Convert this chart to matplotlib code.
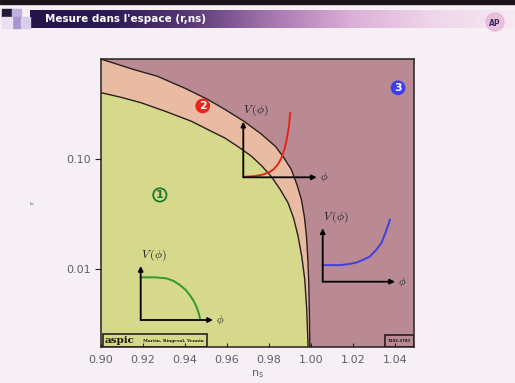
import numpy as np
import matplotlib.pyplot as plt
from matplotlib.patches import Rectangle
from matplotlib.colors import LinearSegmentedColormap

# boundary between region 2 and region 3 (ns, r)
upper_ns = [0.8990, 0.9150, 0.9270, 0.9400, 0.9510, 0.9600, 0.9680, 0.9760, 0.9830,
            0.9870, 0.9906, 0.9933, 0.9954, 0.9968, 0.9978, 0.9985, 0.9989, 0.9992, 0.9994]
upper_r = [0.80, 0.64, 0.551, 0.43, 0.34, 0.27, 0.217, 0.168, 0.129,
           0.102, 0.0796, 0.058, 0.0428, 0.030, 0.020, 0.012, 0.0076, 0.0042, 0.0020]

# boundary between region 1 and region 2
lower_ns = [0.8994, 0.9100, 0.9192, 0.9310, 0.9430, 0.9510, 0.9590, 0.9655, 0.9716,
            0.9765, 0.9810, 0.9852, 0.9890, 0.9917, 0.9938, 0.9956, 0.9970, 0.9979, 0.9986]
lower_r = [0.395, 0.355, 0.318, 0.265, 0.217, 0.182, 0.153, 0.127, 0.105,
           0.086, 0.069, 0.053, 0.040, 0.029, 0.020, 0.013, 0.0081, 0.0045, 0.0020]

xticks = [0.90, 0.92, 0.94, 0.96, 0.98, 1.00, 1.02, 1.04]
yticks = [0.01, 0.10]
ytick_labels = ['0.01', '0.10']

# schematic potentials (fractions of the little axes)
green_phi = [0.0, 0.20, 0.36, 0.46, 0.54, 0.62, 0.68, 0.73, 0.77, 0.80, 0.82]
green_v = [0.79, 0.79, 0.77, 0.72, 0.65, 0.56, 0.46, 0.36, 0.25, 0.14, 0.03]
red_phi = [0.03, 0.15, 0.27, 0.35, 0.41, 0.47, 0.52, 0.56, 0.59, 0.62, 0.64]
red_v = [0.01, 0.02, 0.05, 0.09, 0.14, 0.23, 0.35, 0.50, 0.67, 0.90, 1.16]
blue_phi = [0.0, 0.12, 0.24, 0.36, 0.47, 0.56, 0.65, 0.73, 0.81, 0.87, 0.93]
blue_v = [0.31, 0.31, 0.31, 0.33, 0.36, 0.41, 0.47, 0.58, 0.72, 0.92, 1.16]

W, H = 515, 383
C1 = '#d6d98c'
C2 = '#e9bba3'
C3 = '#b98a93'
TXT = '#5f5d70'

fig = plt.figure(figsize=(W / 100, H / 100), dpi=100)
fig.patch.set_facecolor('#f6eff3')

# slide decoration in pixel coordinates
bg = fig.add_axes([0, 0, 1, 1])
bg.set_xlim(0, W)
bg.set_ylim(H, 0)
bg.axis('off')
bg.add_patch(Rectangle((0, 0), W, 4, color='#1a1418'))
grad = np.linspace(0, 1, 256).reshape(1, -1)
cmap = LinearSegmentedColormap.from_list(
    'bar', ['#23144a', '#2c1a55', '#5a3a78', '#a777b0', '#dcb0d8', '#efd6ea', '#f6eaf2'])
bg.imshow(grad, cmap=cmap, aspect='auto', extent=(30, W, 28, 10), zorder=1)
bg.add_patch(Rectangle((2, 9), 10, 8, color='#241a3a', zorder=2))
bg.add_patch(Rectangle((12, 9), 9, 8, color='#bfb0dc', zorder=2))
bg.add_patch(Rectangle((12, 17), 9, 11, color='#a994cf', zorder=2))
bg.add_patch(Rectangle((21, 17), 9, 11, color='#d8cdea', zorder=2))
bg.add_patch(Rectangle((2, 17), 10, 11, color='#e8e0f0', zorder=2))
bg.text(45, 19, "Mesure dans l'espace (r,ns)", color='white', fontsize=7.5,
        fontweight='bold', va='center', ha='left', zorder=3)
bg.add_patch(plt.Circle((495, 22), 9, color='#e2a9cf', alpha=0.6, zorder=2))
bg.text(495, 23, 'AP', color='#3a2a6a', fontsize=5.5, fontweight='bold',
        ha='center', va='center', zorder=3)

# main chart
ax = fig.add_axes([101 / W, 36 / H, 313 / W, 288 / H])
ax.set_facecolor(C3)
ax.set_yscale('log')
ax.set_xlim(0.9, 1.049)
ax.set_ylim(0.002, 0.79)

ax.fill(lower_ns + [0.8994, 0.8994], lower_r + [0.002, 0.395], color=C1, lw=0)
ax.fill(upper_ns + lower_ns[::-1] + [0.8990],
        upper_r + lower_r[::-1] + [0.80], color=C2, lw=0)
ax.plot(upper_ns, upper_r, color='#2a2020', lw=1)
ax.plot(lower_ns, lower_r, color='#2a2020', lw=1)

ax.set_xticks(xticks)
ax.set_xticklabels([f'{t:.2f}' for t in xticks])
ax.set_yticks(yticks)
ax.set_yticklabels(ytick_labels)
ax.minorticks_off()
ax.tick_params(axis='x', direction='in', length=3, colors='#2a2020',
               labelcolor=TXT, labelsize=8, pad=6)
ax.tick_params(axis='y', direction='out', length=4, colors='#2a2020',
               labelcolor=TXT, labelsize=8)
for s in ax.spines.values():
    s.set_color('#2a2020')
    s.set_linewidth(1.1)
ax.set_xlabel(r'$\mathrm{n_s}$', color=TXT, fontsize=8, labelpad=2)
ax.set_ylabel('r', color=TXT, fontsize=5, labelpad=22)

# region labels
ax.text(0.188, 0.528, '1', transform=ax.transAxes, color='#1f7a2a', fontsize=8,
        fontweight='bold', ha='center', va='center',
        bbox=dict(boxstyle='circle,pad=0.15', fc='none', ec='#1f7a2a', lw=1.3))
ax.text(0.325, 0.837, '2', transform=ax.transAxes, color='white', fontsize=8,
        fontweight='bold', ha='center', va='center',
        bbox=dict(boxstyle='circle,pad=0.15', fc='#e8261e', ec='#e8261e'))
ax.text(0.949, 0.90, '3', transform=ax.transAxes, color='white', fontsize=8,
        fontweight='bold', ha='center', va='center',
        bbox=dict(boxstyle='circle,pad=0.15', fc='#3c3cf0', ec='#3c3cf0'))

# credit boxes
ax.add_patch(Rectangle((0.005, 0.0), 0.333, 0.045, transform=ax.transAxes,
                       fc='none', ec='#1a1414', lw=1.1))
ax.text(0.012, 0.021, 'aspic', transform=ax.transAxes, fontsize=7.5,
        fontweight='bold', family='DejaVu Serif', color='#1a1414', va='center')
ax.text(0.135, 0.021, 'Martin, Ringeval, Vennin', transform=ax.transAxes,
        fontsize=3.2, fontweight='bold', family='DejaVu Serif', color='#1a1414',
        va='center')
ax.add_patch(Rectangle((0.907, 0.0), 0.093, 0.04, transform=ax.transAxes,
                       fc='none', ec='#1a1414', lw=1.1))
ax.text(0.953, 0.02, '1303.3787', transform=ax.transAxes, fontsize=2.8,
        fontweight='bold', color='#1a1414', ha='center', va='center')


def mini_potential(px0, py0, pw, ph, phi, v, color):
    ia = fig.add_axes([px0 / W, (H - py0) / H, pw / W, ph / H])
    ia.set_xlim(0, 1)
    ia.set_ylim(0, 1)
    ia.axis('off')
    ia.patch.set_alpha(0)
    arrow = dict(arrowstyle='-|>', color='black', lw=1.3, mutation_scale=7,
                 shrinkA=0, shrinkB=0)
    ia.annotate('', xy=(1, 0), xytext=(0, 0), arrowprops=arrow, annotation_clip=False)
    ia.annotate('', xy=(0, 1), xytext=(0, 0), arrowprops=arrow, annotation_clip=False)
    ia.plot(phi, v, color=color, lw=1.4, clip_on=False)
    ia.text(1.04, 0, r'$\phi$', fontsize=8, va='center', ha='left',
            math_fontfamily='cm', color='#222222')
    ia.text(0.0, 1.06, r'$V\,(\phi)$', fontsize=8.5, va='bottom', ha='left',
            math_fontfamily='cm', color='#222222')


mini_potential(140.7, 320, 72.3, 54, green_phi, green_v, '#2e9a2a')
mini_potential(243.3, 177.3, 73.4, 55.6, red_phi, red_v, '#e3261c')
mini_potential(322.7, 281.7, 72.3, 53.4, blue_phi, blue_v, '#3f3fe0')

fig.savefig('out.png', dpi=100, facecolor=fig.get_facecolor())
